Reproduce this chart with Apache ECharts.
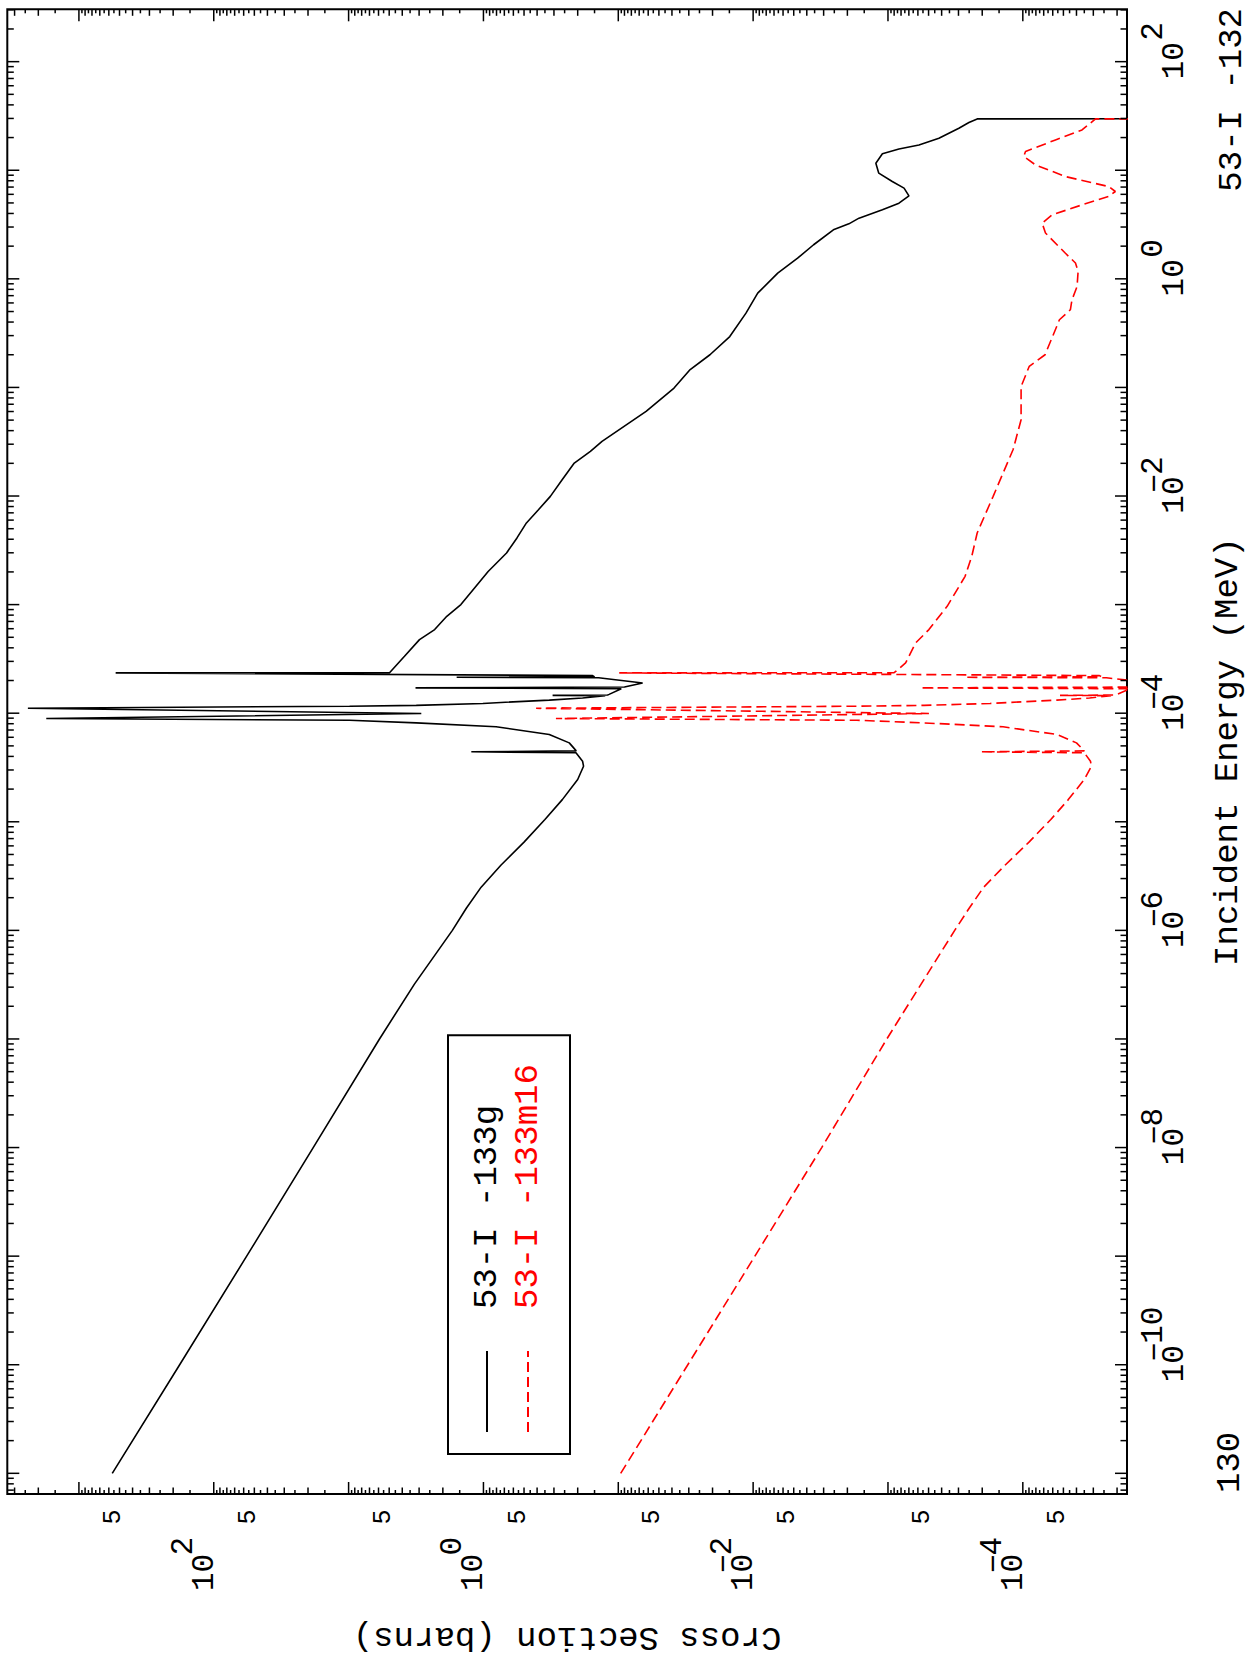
<!DOCTYPE html>
<html><head><meta charset="utf-8">
<script src="https://cdn.jsdelivr.net/npm/echarts/dist/echarts.min.js"></script>
<style>
html,body{margin:0;padding:0;background:#fff;overflow:hidden;}
#wrap{position:absolute;left:0;top:0;width:1250px;height:1662px;overflow:hidden;background:#fff;}
#chart{position:absolute;left:0;top:0;width:1662px;height:1250px;transform-origin:0 0;transform:translate(0px,1662px) rotate(-90deg);}
</style></head><body>
<div id="wrap"><div id="chart"></div></div>
<script>
// ---------- data (incident energy in MeV, cross section in barns) ----------
const energyG = [1e-11,1e-10,1e-9,1e-8,1e-7,3.2e-7,1e-6,1.6e-6,2.5e-6,4e-6,6.5e-6,1.05e-5,1.6e-5,2.45e-5,3.25e-5,3.61e-5,4.32e-5,4.41e-5,4.50e-5,5.33e-5,6.37e-5,7.49e-5,8.14e-5,8.61e-5,8.93e-5,9.93e-5,1.11e-4,1.16e-4,1.18e-4,1.23e-4,1.32e-4,1.38e-4,1.45e-4,1.46e-4,1.47e-4,1.49e-4,1.68e-4,1.71e-4,1.74e-4,1.90e-4,2.12e-4,2.14e-4,2.16e-4,2.22e-4,2.35e-4,2.36e-4,3.34e-4,4.76e-4,5.89e-4,7.8e-4,1.0e-3,1.43e-3,2.02e-3,2.99e-3,4.11e-3,5.65e-3,7.48e-3,9.93e-3,1.42e-2,2.01e-2,2.58e-2,3.19e-2,6.01e-2,9.87e-2,0.146,0.200,0.294,0.483,0.739,1.13,1.55,2.06,2.83,3.21,3.62,4.32,4.97,5.81,6.84,7.87,9.40,11.6,14.2,15.7,17.1,19.7,24.4,27.5,29.7,30,30];
const xsG = [566,179,57,18.3,5.9,3.25,1.70,1.34,1.04,0.74,0.50,0.35,0.26,0.200,0.181,0.184,0.206,1.23,0.205,0.231,0.325,0.805,3.15,9.84,1746,2.89,2390,9.84,3.15,1.01,0.325,0.184,0.125,0.307,0.12,0.117,0.095,3.19,0.09,0.066,0.14,1.58,0.15,0.155,534,4.97,3.85,2.98,2.30,1.87,1.47,1.16,0.923,0.674,0.564,0.480,0.391,0.319,0.260,0.212,0.161,0.132,0.0622,0.0386,0.0293,0.0209,0.0149,0.0113,0.00925,0.00657,0.00468,0.00356,0.00254,0.00195,0.00164,0.00110,8.29e-4,6.99e-4,7.60e-4,9.29e-4,1.17e-3,1.23e-3,1.10e-3,8.29e-4,5.89e-4,4.19e-4,2.98e-4,2.51e-4,2.18e-4,2.18e-4,1e-9];

const energyM = [1e-11,1e-10,1e-9,1e-8,1e-7,1e-6,1.6e-6,2.5e-6,4e-6,6.5e-6,1.05e-5,1.6e-5,2.45e-5,3.25e-5,3.61e-5,4.32e-5,4.41e-5,4.50e-5,5.33e-5,6.37e-5,7.49e-5,8.14e-5,8.61e-5,8.93e-5,9.93e-5,1.11e-4,1.16e-4,1.18e-4,1.23e-4,1.32e-4,1.38e-4,1.45e-4,1.46e-4,1.47e-4,1.49e-4,1.68e-4,1.71e-4,1.74e-4,1.90e-4,2.12e-4,2.14e-4,2.16e-4,2.22e-4,2.35e-4,2.36e-4,2.90e-4,4.43e-4,5.89e-4,9.64e-4,1.82e-3,2.79e-3,4.57e-3,9.93e-3,2.68e-2,5.04e-2,0.102,0.156,0.200,0.420,0.519,0.641,0.849,1.17,1.40,1.72,2.64,3.26,3.88,4.80,5.73,6.37,7.08,8.75,11.2,13.4,14.9,19.0,23.5,29.7,30,30];
const xsM = [0.096,0.0305,0.0097,0.0031,1.02e-3,3.2e-4,2.5e-4,1.95e-4,1.35e-4,9.0e-5,6.2e-5,4.6e-5,3.5e-5,3.1e-5,3.15e-5,3.5e-5,2.05e-4,3.5e-5,4.0e-5,5.6e-5,1.4e-4,5.4e-4,1.7e-3,0.290,4.97e-4,0.407,1.7e-3,5.4e-4,1.75e-4,5.6e-5,3.2e-5,2.2e-5,5.3e-5,2.1e-5,2.0e-5,1.6e-5,5.74e-4,1.55e-5,1.1e-5,2.4e-5,2.69e-4,2.6e-5,2.7e-5,0.0984,9.0e-4,7.4e-4,6.24e-4,4.97e-4,3.64e-4,2.68e-4,2.39e-4,2.18e-4,1.66e-4,1.18e-4,1.03e-4,1.03e-4,8.97e-5,6.84e-5,5.35e-5,4.44e-5,4.32e-5,3.96e-5,3.89e-5,4.07e-5,4.83e-5,6.79e-5,7.19e-5,6.07e-5,3.64e-5,2.31e-5,2.06e-5,2.31e-5,4.83e-5,8.05e-5,9.84e-5,9.55e-5,5.73e-5,3.64e-5,2.89e-5,2.89e-5,1e-12];

const seriesNames = ['53-I -133g', '53-I -133m16'];
const energyTitle = 'Incident Energy (MeV)';
const xsTitle = 'Cross Section (barns)';
const leftNote = '130';
const rightNote = '53-I -132';

// axis ranges and ticks
const E_MIN = 6.45e-12, E_MAX = 303.5;
const XS_MIN = 1.688e-5, XS_MAX = 3397;
const energyDecades = [-12,-11,-10,-9,-8,-7,-6,-5,-4,-3,-2,-1,0,1,2];
const energyMinor = [2,3,4,5,6,7,8,9];
const energyLabelExps = [-10,-8,-6,-4,-2,0,2];
const xsDecades = [-5,-4,-3,-2,-1,0,1,2,3];
const xsMinor = [1.5,2,2.5,3,3.5,4,4.5,5,5.5,6,6.5,7,7.5,8,8.5,9,9.5];
const xsLabelExps = [-4,-2,0,2];
const xsFiveLabelExps = [-5,-4,-3,-2,-1,0,1,2];

const FONT = '"Liberation Mono","Courier New",monospace';
const INK = '#000';
const RED = '#ff0000';

// build tick data
const energyTickData = [];
energyDecades.forEach(d => {
  [1].concat(energyMinor).forEach(m => {
    const v = m * Math.pow(10, d);
    if (v >= E_MIN && v <= E_MAX) energyTickData.push([v, XS_MIN, m === 1 ? 12 : 6.5]);
  });
});
const xsTickData = [];
xsDecades.forEach(d => {
  [1].concat(xsMinor).forEach(m => {
    const v = m * Math.pow(10, d);
    if (v >= XS_MIN && v <= XS_MAX) xsTickData.push([E_MIN, v, m === 1 ? 12 : (Number.isInteger(m) ? 6.5 : 4)]);
  });
});
const energyLabelData = energyLabelExps.map(e => [Math.pow(10, e), XS_MIN, e]);
const xsLabelData = xsLabelExps.map(e => [E_MIN, Math.pow(10, e), e]);
const xsFiveData = xsFiveLabelExps.map(e => [E_MIN, 5 * Math.pow(10, e), e]);

const tickStyle = {stroke: INK, lineWidth: 1.5};

function energyTickItem(params, api) {
  const v = api.value(0), len = api.value(2);
  const b = api.coord([v, XS_MIN]);
  const t = api.coord([v, XS_MAX]);
  return {type: 'group', children: [
    {type: 'line', shape: {x1: b[0], y1: b[1], x2: b[0], y2: b[1] - len}, style: tickStyle},
    {type: 'line', shape: {x1: t[0], y1: t[1], x2: t[0], y2: t[1] + len}, style: tickStyle}
  ]};
}
function xsTickItem(params, api) {
  const v = api.value(1), len = api.value(2);
  const l = api.coord([E_MIN, v]);
  const r = api.coord([E_MAX, v]);
  return {type: 'group', children: [
    {type: 'line', shape: {x1: l[0], y1: l[1], x2: l[0] + len, y2: l[1]}, style: tickStyle},
    {type: 'line', shape: {x1: r[0], y1: r[1], x2: r[0] - len, y2: r[1]}, style: tickStyle}
  ]};
}
function powerLabel(cx, cy, ex, supOffset) {
  const f = '31px ' + FONT;
  const kids = [
    {type: 'text', style: {text: '10', x: cx, y: cy, align: 'center', verticalAlign: 'middle', font: f, fill: INK}},
    {type: 'text', style: {text: String(Math.abs(ex)), x: cx + supOffset, y: cy - 21, align: 'left', verticalAlign: 'middle', font: f, fill: INK}}
  ];
  if (ex < 0) kids.push({type: 'text', style: {text: '\u2212', x: cx + supOffset + 1, y: cy - 19, align: 'right', verticalAlign: 'middle', font: f, fill: INK}});
  return {type: 'group', children: kids};
}
function energyLabelItem(params, api) {
  const p = api.coord([api.value(0), XS_MIN]);
  return powerLabel(p[0] + 1, p[1] + 47, api.value(2), 20);
}
function xsLabelItem(params, api) {
  const p = api.coord([E_MIN, api.value(1)]);
  return powerLabel(p[0] - 78.5, p[1] - 9.5, api.value(2), 17);
}
function xsFiveItem(params, api) {
  const p = api.coord([E_MIN, api.value(1)]);
  return {type: 'text', style: {text: '5', x: p[0] - 23, y: p[1] - 6, align: 'center', verticalAlign: 'middle', font: '25px ' + FONT, fill: INK}};
}

const chart = echarts.init(document.getElementById('chart'), null, {renderer: 'svg', width: 1662, height: 1250});
chart.setOption({
  animation: false,
  backgroundColor: '#fff',
  grid: {left: 167, right: 9.3, top: 7.3, bottom: 121.7, show: true, borderColor: INK, borderWidth: 2, backgroundColor: 'transparent'},
  title: [
    {text: leftNote, left: 169, top: 1213, padding: 0, textStyle: {fontFamily: FONT, fontSize: 34, fontWeight: 'normal', color: INK}},
    {text: rightNote, right: 8, top: 1215, padding: 0, textStyle: {fontFamily: FONT, fontSize: 34, fontWeight: 'normal', color: INK}}
  ],
  legend: {
    left: 208, top: 448, orient: 'vertical', selectedMode: false,
    padding: [22, 29, 25, 21], itemWidth: 81, itemHeight: 14, itemGap: 7,
    borderColor: INK, borderWidth: 2, backgroundColor: '#fff',
    itemStyle: {opacity: 0, borderWidth: 0},
    textStyle: {fontFamily: FONT, fontSize: 34, padding: [0, 0, 0, 37]},
    data: [
      {name: seriesNames[0], textStyle: {color: INK}},
      {name: seriesNames[1], textStyle: {color: RED}}
    ]
  },
  xAxis: {
    type: 'log', logBase: 10, min: E_MIN, max: E_MAX,
    name: energyTitle, nameLocation: 'middle', nameGap: 84,
    nameTextStyle: {fontFamily: FONT, fontSize: 34, color: INK},
    axisLine: {show: false}, axisTick: {show: false}, axisLabel: {show: false}, splitLine: {show: false}
  },
  yAxis: {
    type: 'log', logBase: 10, min: XS_MIN, max: XS_MAX,
    name: xsTitle, nameLocation: 'middle', nameGap: 126, nameRotate: 90,
    nameTextStyle: {fontFamily: FONT, fontSize: 34, color: INK},
    axisLine: {show: false}, axisTick: {show: false}, axisLabel: {show: false}, splitLine: {show: false}
  },
  series: [
    {type: 'line', name: seriesNames[0], data: energyG.map((e, i) => [e, xsG[i]]), symbol: 'none', showSymbol: false, clip: true,
     lineStyle: {color: INK, width: 1.6}, itemStyle: {color: INK}, z: 3},
    {type: 'line', name: seriesNames[1], data: energyM.map((e, i) => [e, xsM[i]]), symbol: 'none', showSymbol: false, clip: true,
     lineStyle: {color: RED, width: 1.6, type: [10, 5]}, itemStyle: {color: RED}, z: 3},
    {type: 'custom', name: 'energyTicks', data: energyTickData, renderItem: energyTickItem, silent: true, z: 4},
    {type: 'custom', name: 'xsTicks', data: xsTickData, renderItem: xsTickItem, silent: true, z: 4},
    {type: 'custom', name: 'energyLabels', data: energyLabelData, renderItem: energyLabelItem, silent: true, z: 4},
    {type: 'custom', name: 'xsLabels', data: xsLabelData, renderItem: xsLabelItem, silent: true, z: 4},
    {type: 'custom', name: 'xsFives', data: xsFiveData, renderItem: xsFiveItem, silent: true, z: 4}
  ]
});
</script></body></html>
